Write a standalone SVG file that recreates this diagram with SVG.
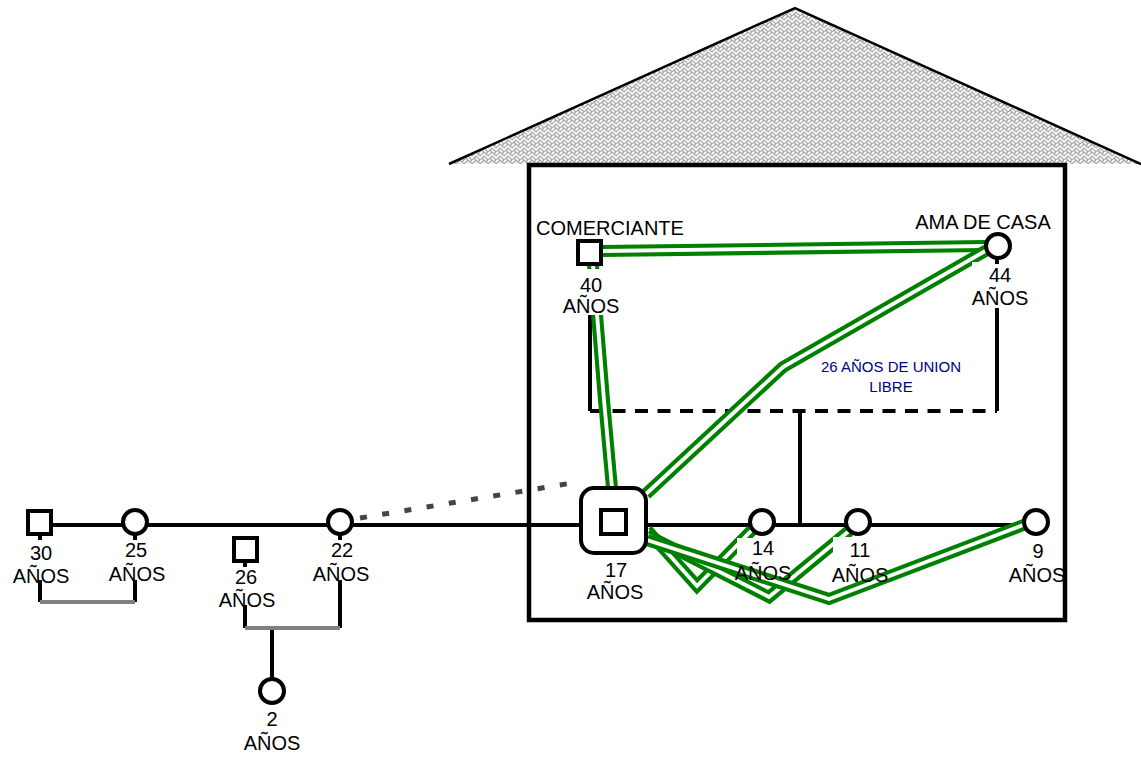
<svg xmlns="http://www.w3.org/2000/svg" width="1141" height="757" viewBox="0 0 1141 757">
<style>
text{font-family:"Liberation Sans",Arial,sans-serif;font-size:20px;fill:#000;text-anchor:middle}
.u{font-size:15px;fill:#000080}
.blk{stroke:#000;stroke-width:4;fill:none}
.gry{stroke:#808080;stroke-width:4;fill:none}
.g{stroke:#008000;stroke-width:12;fill:none;stroke-linejoin:miter}
.w{stroke:#fff;stroke-width:3.8;fill:none;stroke-linejoin:miter}
.node{fill:#fff;stroke:#000;stroke-width:4}
.box{fill:#fff}
</style>
<defs>
<pattern id="weave" width="8" height="8" patternUnits="userSpaceOnUse">
<rect width="8" height="8" fill="#fff"/>
<path d="M0 8 L4 4 L8 8 M0 4 L4 0 L8 4 M2 6 L4 8 M6 2 L8 0" stroke="#a0a0a0" stroke-width="1.2" fill="none"/>
</pattern>
</defs>
<g id="house">
<polygon points="449,164 795,8 1141,164" fill="url(#weave)"/>
<path d="M449,164 L795,8 L1141,164" stroke="#000" stroke-width="2.5" fill="none"/>
<rect x="529" y="165" width="536" height="455" fill="#fff"/>
</g>
<g id="connectors">
<line class="blk" x1="40" y1="525" x2="1036" y2="525"/>
<path class="blk" d="M590,266 L590,411"/>
<path class="blk" d="M997,258 L997,411"/>
<path class="blk" d="M590,411 L997,411" stroke-dasharray="13 9.5"/>
<path class="blk" d="M800,411 L800,525"/>
<path class="blk" d="M40,534 L40,540 M135,534 L135,540 M340,534 L340,540 M245,561 L245,567"/>
<path class="blk" d="M40,580 L40,602 M135,580 L135,602"/>
<path class="gry" d="M40,602 L135,602"/>
<path class="blk" d="M245,605 L245,628 M340,580 L340,628 M272,628 L272,679"/>
<path class="gry" d="M245,628 L340,628"/>
<path d="M360,518 L572,483" stroke="#444" stroke-width="5" stroke-dasharray="7 15.5" fill="none"/>
<path class="g" d="M602,251 L986,246"/><path class="w" d="M602,251 L986,246"/>
<path class="g" d="M987,250 L783,367 L646,494"/><path class="w" d="M987,250 L783,367 L646,494"/>
<path class="g" d="M593,265 L604,400 L612,488"/><path class="w" d="M593,265 L604,400 L612,488"/>
<path class="g" d="M647,530 L697,586 L752,530"/><path class="w" d="M647,530 L697,586 L752,530"/>
<path class="g" d="M647,535 L769,597 L849,531"/><path class="w" d="M647,535 L769,597 L849,531"/>
<path class="g" d="M647,540 L829,599 L1026,524"/><path class="w" d="M647,540 L829,599 L1026,524"/>
</g>
<g id="labels">
<rect class="box" x="565" y="269" width="53" height="46"/>
<rect class="box" x="972" y="262" width="55" height="46"/>
<rect class="box" x="737" y="538" width="52" height="21"/>
<rect class="box" x="833" y="537" width="52" height="21"/>
<path class="blk" d="M997,258 L997,264"/>
<text class="u" x="891" y="372">26 AÑOS DE UNION</text>
<text class="u" x="891" y="392">LIBRE</text>
</g>
<g id="n30"><rect class="node" x="28" y="511" width="23" height="23"/><text x="41" y="560">30</text><text x="41" y="583">AÑOS</text></g>
<g id="n25"><circle class="node" cx="135" cy="522" r="12"/><text x="136" y="557">25</text><text x="137" y="581">AÑOS</text></g>
<g id="n26"><rect class="node" x="234" y="538" width="23" height="23"/><text x="246" y="584">26</text><text x="247" y="607">AÑOS</text></g>
<g id="n22"><circle class="node" cx="340" cy="522" r="12"/><text x="342" y="557">22</text><text x="341" y="581">AÑOS</text></g>
<g id="n2"><circle class="node" cx="272" cy="691" r="12"/><text x="272" y="726">2</text><text x="272" y="750">AÑOS</text></g>
<g id="n40"><rect class="node" x="578" y="241" width="23" height="23"/><text x="610" y="235">COMERCIANTE</text><text x="591" y="292">40</text><text x="591" y="313">AÑOS</text></g>
<g id="n44"><circle class="node" cx="998" cy="246" r="12"/><text x="983" y="229">AMA DE CASA</text><text x="1000" y="282">44</text><text x="1000" y="305">AÑOS</text></g>
<g id="n17"><rect class="node" x="581" y="488" width="65" height="65" rx="13" stroke-width="5"/><rect class="node" x="601" y="510" width="25" height="24"/><text x="616" y="577">17</text><text x="615" y="599">AÑOS</text></g>
<g id="n14"><circle class="node" cx="762" cy="522" r="12"/><text x="763" y="555">14</text><text x="763" y="580">AÑOS</text></g>
<g id="n11"><circle class="node" cx="858" cy="522" r="12"/><text x="860" y="557">11</text><text x="860" y="582">AÑOS</text></g>
<g id="n9"><circle class="node" cx="1036" cy="522" r="12"/><text x="1038" y="558">9</text><text x="1037" y="582">AÑOS</text></g>
<g id="walls"><rect x="529" y="165" width="536" height="455" fill="none" stroke="#000" stroke-width="4.5"/></g>
</svg>
